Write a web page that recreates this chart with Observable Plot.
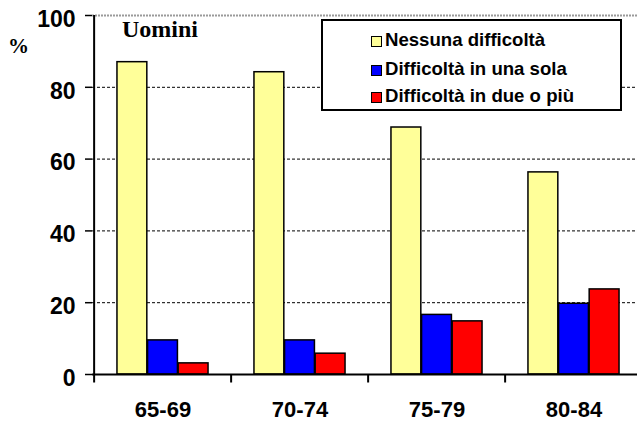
<!DOCTYPE html>
<html><head><meta charset="utf-8">
<script src="https://cdn.jsdelivr.net/npm/d3@7"></script>
<script src="https://cdn.jsdelivr.net/npm/@observablehq/plot@0.6"></script>
<style>
body{margin:0;background:#fff}
#wrap{position:relative;width:637px;height:421px;overflow:hidden;background:#fff}
#wrap svg{position:absolute;left:0;top:0}
.ov{position:absolute;white-space:nowrap;color:#000;font-weight:bold}
.serif{font-family:"Liberation Serif","Times New Roman",serif}
#legend{position:absolute;left:321px;top:19px;width:297px;height:88px;border:2px solid #000;background:#fff;font-family:"Liberation Sans",Arial,sans-serif}
#legend .sw{position:absolute;width:9px;height:9px;border:1px solid #000}
#legend .tx{position:absolute;font-size:18.6px;line-height:18px;font-weight:bold;white-space:nowrap}
</style></head><body>
<div id="wrap"></div>
<script>
// ---- data ----
const ages = ["65-69", "70-74", "75-79", "80-84"];
const nessuna = [87.0, 84.2, 68.8, 56.3];
const unaSola = [9.5, 9.5, 16.6, 19.7];
const dueOPiu = [3.1, 5.8, 14.8, 23.7];
const seriesNames = ["Nessuna difficoltà", "Difficoltà in una sola", "Difficoltà in due o più"];
const seriesColors = ["#FFFF99", "#0000FF", "#FF0000"];
const yTicks = [0, 20, 40, 60, 80, 100];
const gridValues = [20, 40, 60, 80];
const topValue = [100];
const titleText = "Uomini";
const unitText = "%";

// ---- layout ----
const W = 637, H = 421, mL = 92, mR = -6, mT = 15, mB = 47;
const bw = (W - mL - mR) / ages.length;
const barW = bw * 2 / 9;
const groupStart = bw / 6;
const series = [nessuna, unaSola, dueOPiu];

const tickSymbol = {draw(ctx) { ctx.moveTo(0, 0); ctx.lineTo(0, 8); }};

const barMarks = series.map((vals, i) => Plot.barY(vals, {
  x: (d, j) => ages[j],
  y: d => d,
  fill: seriesColors[i],
  stroke: "black",
  strokeWidth: 1.5,
  insetLeft: groupStart + i * barW,
  insetRight: bw - (groupStart + (i + 1) * barW)
}));

const hasAxisMarks = typeof Plot.axisY === "function";
const axisMarks = hasAxisMarks ? [
  Plot.axisY({ticks: yTicks, tickSize: 7, tickFormat: () => "", strokeWidth: 1.5}),
  Plot.axisY({ticks: yTicks, tickSize: 0, tickPadding: 17, dy: 4, fontSize: 23, fontWeight: "bold"}),
  Plot.axisX({tickSize: 0, tickPadding: 27, fontSize: 22, fontWeight: "bold"})
] : [];

const chart = Plot.plot({
  width: W, height: H,
  marginLeft: mL, marginRight: mR, marginTop: mT, marginBottom: mB,
  style: {fontFamily: "Liberation Sans, Arial, sans-serif", fontWeight: "bold", fontSize: "22px", color: "black", background: "transparent", overflow: "visible"},
  x: {domain: ages, padding: 0, tickSize: 0, tickPadding: 27, label: null},
  y: {domain: [0, 100], ticks: yTicks, tickSize: 7, tickPadding: 10, label: null},
  marks: [
    Plot.ruleY(gridValues, {stroke: "black", strokeWidth: 1, strokeDasharray: "3,2"}),
    Plot.ruleY(topValue, {stroke: "#9a9a9a", strokeWidth: 2, strokeDasharray: "2,1"}),
    ...barMarks,
    Plot.ruleY([0], {stroke: "black", strokeWidth: 2}),
    Plot.ruleX([ages[0]], {dx: -bw / 2, stroke: "black", strokeWidth: 2}),
    Plot.dot(ages, {x: d => d, y: () => 0, dx: -bw / 2, symbol: tickSymbol, fill: "none", stroke: "black", strokeWidth: 2}),
    ...axisMarks
  ]
});

const wrap = document.getElementById("wrap");
wrap.appendChild(chart);

// title and unit
const t = document.createElement("div");
t.className = "ov serif"; t.textContent = titleText;
Object.assign(t.style, {left: "122px", top: "17px", fontSize: "24px", lineHeight: "24px"});
wrap.appendChild(t);
const u = document.createElement("div");
u.className = "ov serif"; u.textContent = unitText;
Object.assign(u.style, {left: "8px", top: "36px", fontSize: "21px", lineHeight: "21px"});
wrap.appendChild(u);

// legend
const lg = document.createElement("div");
lg.id = "legend";
const baselines = [25.7, 54.5, 81.7];
seriesNames.forEach((name, i) => {
  const sw = document.createElement("div");
  sw.className = "sw";
  Object.assign(sw.style, {left: "48px", top: (baselines[i] - 11) + "px", background: seriesColors[i]});
  lg.appendChild(sw);
  const tx = document.createElement("div");
  tx.className = "tx"; tx.textContent = name;
  Object.assign(tx.style, {left: "62px", top: (baselines[i] - 15.5) + "px"});
  lg.appendChild(tx);
});
wrap.appendChild(lg);
</script>
</body></html>
